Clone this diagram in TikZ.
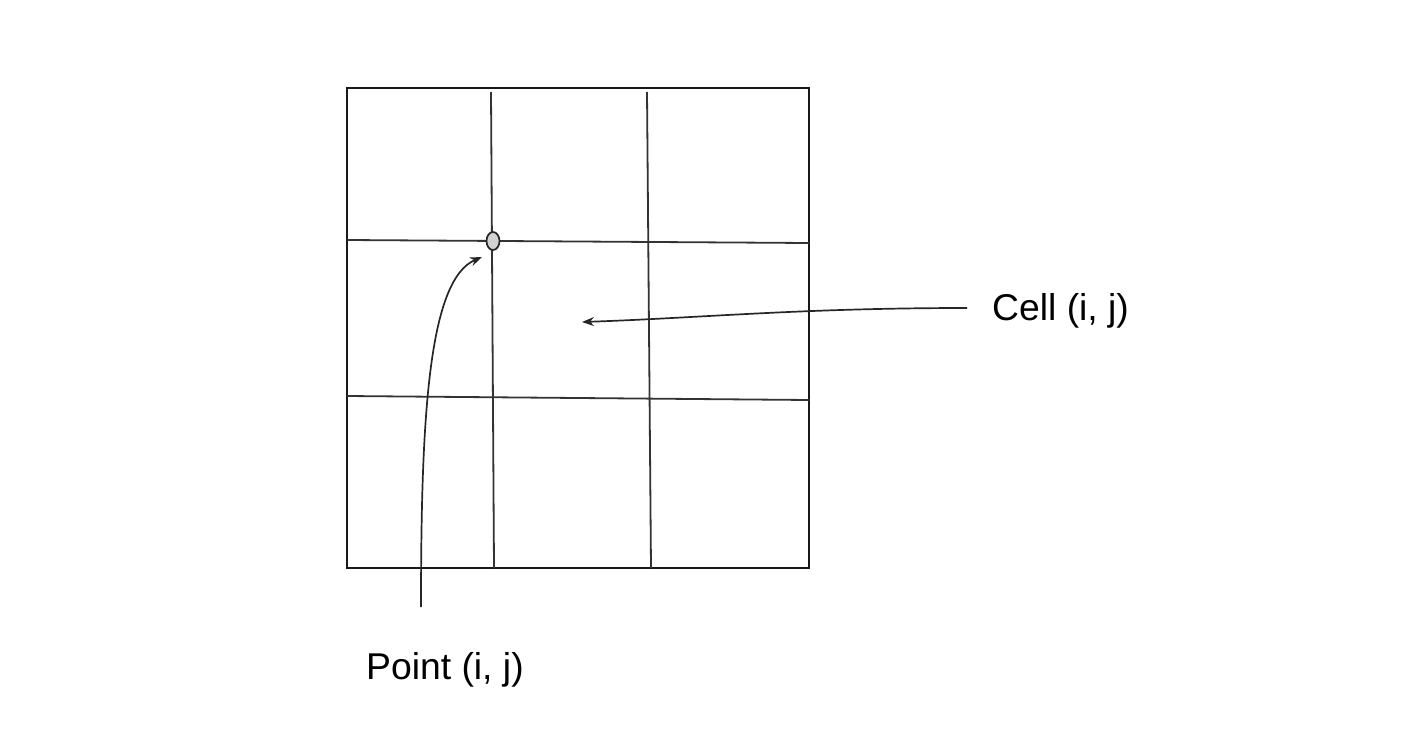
\documentclass[tikz,border=0pt]{standalone}
\usepackage{fontspec}
\setmainfont{Liberation Sans}
\usetikzlibrary{arrows.meta,shapes.geometric}
\begin{document}
\begin{tikzpicture}[x=1pt,y=-1pt,
  gridline/.style={line width=1.8pt,draw=black!80},
  conn/.style={line width=1.7pt,draw=black!85,-{Stealth[length=12pt,width=9pt]}},
  lbl/.style={font=\fontsize{37.3}{42}\selectfont,inner sep=0pt,anchor=base west}]
\useasboundingbox (0,0) rectangle (1408,736);
\draw[line width=2.2pt,draw=black!90] (347,88) rectangle (809,568);
\draw[gridline] (491,92) -- (494,568);
\draw[gridline] (647,92) -- (651,568);
\draw[gridline] (347,240) -- (809,243);
\draw[gridline] (347,396) -- (809,400);
\node[ellipse,draw=black!85,line width=1.7pt,fill=black!18,minimum width=13pt,minimum height=18pt,inner sep=0pt] (pt) at (493,241) {};
\node[lbl] (celltxt) at (992,320) {Cell (i, j)};
\node[lbl] (pointtxt) at (366,679) {Point (i, j)};
\coordinate (ps) at (421,607);
\coordinate (pe) at (482,257);
\coordinate (cs) at (967,308);
\coordinate (ce) at (582,322);
\draw[conn] (ps) .. controls (421,420) and (428,280) .. (pe);
\draw[conn] (cs) .. controls (800,308) and (700,318) .. (ce);
\end{tikzpicture}
\end{document}
